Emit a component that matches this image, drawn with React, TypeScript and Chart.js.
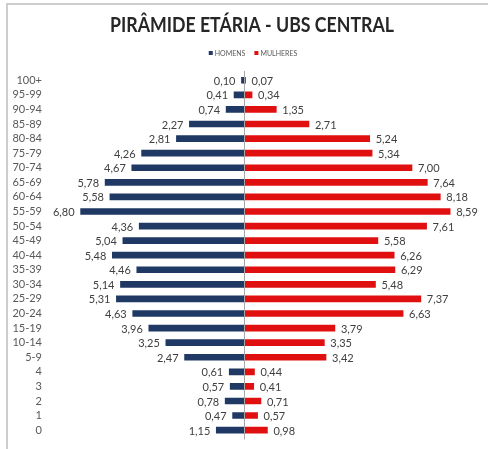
import { useEffect, useRef } from "react";
import { Chart, registerables } from "chart.js";

Chart.register(...registerables);

const titulo = "PIRÂMIDE ETÁRIA - UBS CENTRAL";
const faixas = [
  "100+", "95-99", "90-94", "85-89", "80-84", "75-79", "70-74", "65-69", "60-64",
  "55-59", "50-54", "45-49", "40-44", "35-39", "30-34", "25-29", "20-24", "15-19",
  "10-14", "5-9", "4", "3", "2", "1", "0",
];
const homens = [
  0.10, 0.41, 0.74, 2.27, 2.81, 4.26, 4.67, 5.78, 5.58, 6.80, 4.36, 5.04, 5.48,
  4.46, 5.14, 5.31, 4.63, 3.96, 3.25, 2.47, 0.61, 0.57, 0.78, 0.47, 1.15,
];
const mulheres = [
  0.07, 0.34, 1.35, 2.71, 5.24, 5.34, 7.00, 7.64, 8.18, 8.59, 7.61, 5.58, 6.26,
  6.29, 5.48, 7.37, 6.63, 3.79, 3.35, 3.42, 0.44, 0.41, 0.71, 0.57, 0.98,
];
const series = ["HOMENS", "MULHERES"];
const cores = ["#1F3864", "#E01010"];

const FONT = "Lato, 'Open Sans', sans-serif";
const fmt = (v: number) => Math.abs(v).toFixed(2).replace(".", ",");

const headerPlugin = {
  id: "header",
  afterDraw(chart: any) {
    const ctx = chart.ctx as CanvasRenderingContext2D;
    ctx.save();
    // title (horizontally condensed to mimic a narrow font)
    ctx.font = `bold 20px ${FONT}`;
    ctx.fillStyle = "#262626";
    ctx.textAlign = "center";
    ctx.textBaseline = "alphabetic";
    const tw = ctx.measureText(titulo).width;
    const sx = Math.min(1, 284 / tw);
    ctx.save();
    ctx.translate(252, 32);
    ctx.scale(sx, 1);
    ctx.fillText(titulo, 0, 0);
    ctx.restore();
    // legend
    ctx.font = `7px ${FONT}`;
    ctx.textAlign = "left";
    const box = 4;
    const gap = 2;
    const sep = 9;
    const w0 = ctx.measureText(series[0]).width;
    const w1 = ctx.measureText(series[1]).width;
    const total = box + gap + w0 + sep + box + gap + w1;
    let x = 253 - total / 2;
    const yb = 56;
    series.forEach((s, i) => {
      ctx.fillStyle = cores[i];
      ctx.fillRect(x, yb - 5, box, box);
      x += box + gap;
      ctx.fillStyle = "#595959";
      ctx.fillText(s, x, yb);
      x += (i === 0 ? w0 : w1) + sep;
    });
    ctx.restore();
  },
};

const labelsPlugin = {
  id: "valueLabels",
  afterDatasetsDraw(chart: any) {
    const ctx = chart.ctx as CanvasRenderingContext2D;
    const xs = chart.scales.x;
    const ys = chart.scales.y;
    const zero = xs.getPixelForValue(0);
    ctx.save();
    // center axis line
    ctx.strokeStyle = "#A6A6A6";
    ctx.lineWidth = 1;
    ctx.beginPath();
    ctx.moveTo(Math.round(zero) + 0.5, chart.chartArea.top - 2);
    ctx.lineTo(Math.round(zero) + 0.5, chart.chartArea.bottom + 2);
    ctx.stroke();
    ctx.font = `11px ${FONT}`;
    ctx.fillStyle = "#404040";
    ctx.textBaseline = "middle";
    faixas.forEach((_, i) => {
      const y = ys.getPixelForValue(i) + 1;
      ctx.textAlign = "right";
      ctx.fillText(fmt(homens[i]), xs.getPixelForValue(-homens[i]) - 6, y);
      ctx.textAlign = "left";
      ctx.fillText(fmt(mulheres[i]), xs.getPixelForValue(mulheres[i]) + 6, y);
    });
    ctx.restore();
  },
};

export default function App() {
  const ref = useRef<HTMLCanvasElement>(null);
  useEffect(() => {
    if (!ref.current) return;
    const chart = new Chart(ref.current, {
      type: "bar",
      data: {
        labels: faixas,
        datasets: [
          {
            label: series[0],
            data: homens.map((v) => -v),
            backgroundColor: cores[0],
            barThickness: 6,
          },
          {
            label: series[1],
            data: mulheres,
            backgroundColor: cores[1],
            barThickness: 6,
          },
        ],
      },
      options: {
        indexAxis: "y",
        responsive: false,
        animation: false,
        layout: { padding: { top: 73, bottom: 10, left: 0, right: 16 } },
        plugins: {
          legend: { display: false },
          title: { display: false },
          tooltip: { enabled: false },
        },
        scales: {
          x: {
            display: false,
            stacked: true,
            min: -8.2,
            max: 9.5,
          },
          y: {
            stacked: true,
            grid: { display: false, drawTicks: false },
            border: { display: false },
            ticks: {
              padding: 5,
              color: "#595959",
              font: { family: FONT, size: 11 },
              autoSkip: false,
            },
            afterFit: (scale: any) => {
              scale.width = 47;
            },
          },
        },
      },
      plugins: [headerPlugin, labelsPlugin],
    });
    return () => chart.destroy();
  }, []);

  return (
    <div
      style={{
        position: "fixed",
        left: 0,
        top: 0,
        width: 488,
        height: 449,
        background: "#fff",
        overflow: "hidden",
      }}
    >
      <div
        style={{
          position: "absolute",
          left: 6,
          top: 3,
          width: 500,
          height: 460,
          borderTop: "2px solid #CDCDCD",
          borderLeft: "2px solid #CDCDCD",
        }}
      />
      <canvas
        ref={ref}
        width={488}
        height={449}
        style={{ position: "absolute", left: 0, top: 0 }}
      />
    </div>
  );
}
